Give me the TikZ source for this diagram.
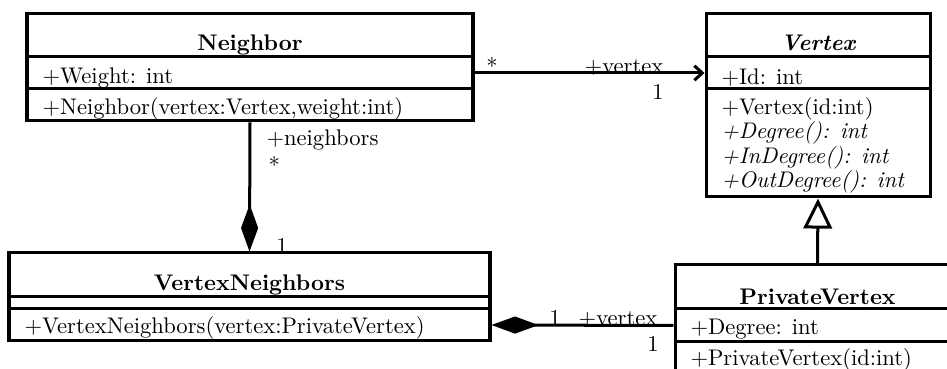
\documentclass[tikz,border=0pt]{standalone}
\usetikzlibrary{arrows.meta,fit}
\begin{document}
\begin{tikzpicture}[x=0.4425pt,y=-0.4425pt,line width=1.33pt,
  box/.style={draw,rectangle,inner sep=0pt},
  ttl/.style={inner sep=0pt,anchor=base,font=\bfseries},
  ln/.style={inner sep=0pt,anchor=base west},
  lab/.style={inner sep=0pt,anchor=base},
  assoc/.style={-{Straight Barb[length=3.5pt,width=6.4pt]}},
  compo/.style={{Diamond[length=20.8pt,width=7.6pt]}-},
  gener/.style={-{Triangle[open,length=13.3pt,width=12.6pt]}}]
\useasboundingbox (0,0) rectangle (947,369);
% Neighbor
\node[box,fit={(27,14) (473,57)}] (nbT) {};
\node[box,fit={(27,57) (473,89)}] (nbA) {};
\node[box,fit={(27,89) (473,121)}] (nbO) {};
\node[ttl] (nbTt) at (250,51) {Neighbor};
\node[ln] (nbA1) at (41,84) {+Weight: int};
\node[ln] (nbO1) at (41,115) {+Neighbor(vertex:Vertex,weight:int)};
% Vertex
\node[box,fit={(706,14) (930,57)}] (vxT) {};
\node[box,fit={(706,57) (930,89)}] (vxA) {};
\node[box,fit={(706,89) (930,197)}] (vxO) {};
\node[ttl,font=\bfseries\itshape] (vxTt) at (818,51) {Vertex};
\node[ln] (vxA1) at (720,85) {+Id: int};
\node[ln] (vxO1) at (720,115) {+Vertex(id:int)};
\node[ln,font=\itshape] (vxO2) at (720,139) {+Degree(): int};
\node[ln,font=\itshape] (vxO3) at (720,164) {+InDegree(): int};
\node[ln,font=\itshape] (vxO4) at (720,188) {+OutDegree(): int};
% VertexNeighbors
\node[box,fit={(9,253) (490,297)}] (vnT) {};
\node[box,fit={(9,297) (490,309)}] (vnA) {};
\node[box,fit={(9,309) (490,341)}] (vnO) {};
\node[ttl] (vnTt) at (249.5,291) {VertexNeighbors};
\node[ln] (vnO1) at (23,334) {+VertexNeighbors(vertex:PrivateVertex)};
% PrivateVertex
\node[box,fit={(675,265) (960,309)}] (pvT) {};
\node[box,fit={(675,309) (960,342)}] (pvA) {};
\node[box,fit={(675,342) (960,380)}] (pvO) {};
\node[ttl] (pvTt) at (817.5,305) {PrivateVertex};
\node[ln] (pvA1) at (689,335) {+Degree: int};
\node[ln] (pvO1) at (689,366) {+PrivateVertex(id:int)};
% connectors
\draw[assoc] (nbA.east) -- (vxA.west);
\draw[compo] (vnT.north) -- (nbO.south);
\draw[compo] (vnO.east) -- (pvA.west);
\draw[gener] (pvT.north) -- (vxO.south);
% labels
\node[lab] (l1) at (492,75) {*};
\node[lab] (l2) at (624,74) {+vertex};
\node[lab] (l3) at (658,100) {1};
\node[ln] (l4) at (265,146) {+neighbors};
\node[ln] (l5) at (267,174) {*};
\node[lab] (l6) at (282,254) {1};
\node[lab] (l7) at (555,326) {1};
\node[lab] (l8) at (618,326) {+vertex};
\node[lab] (l9) at (653,352) {1};
\end{tikzpicture}
\end{document}
